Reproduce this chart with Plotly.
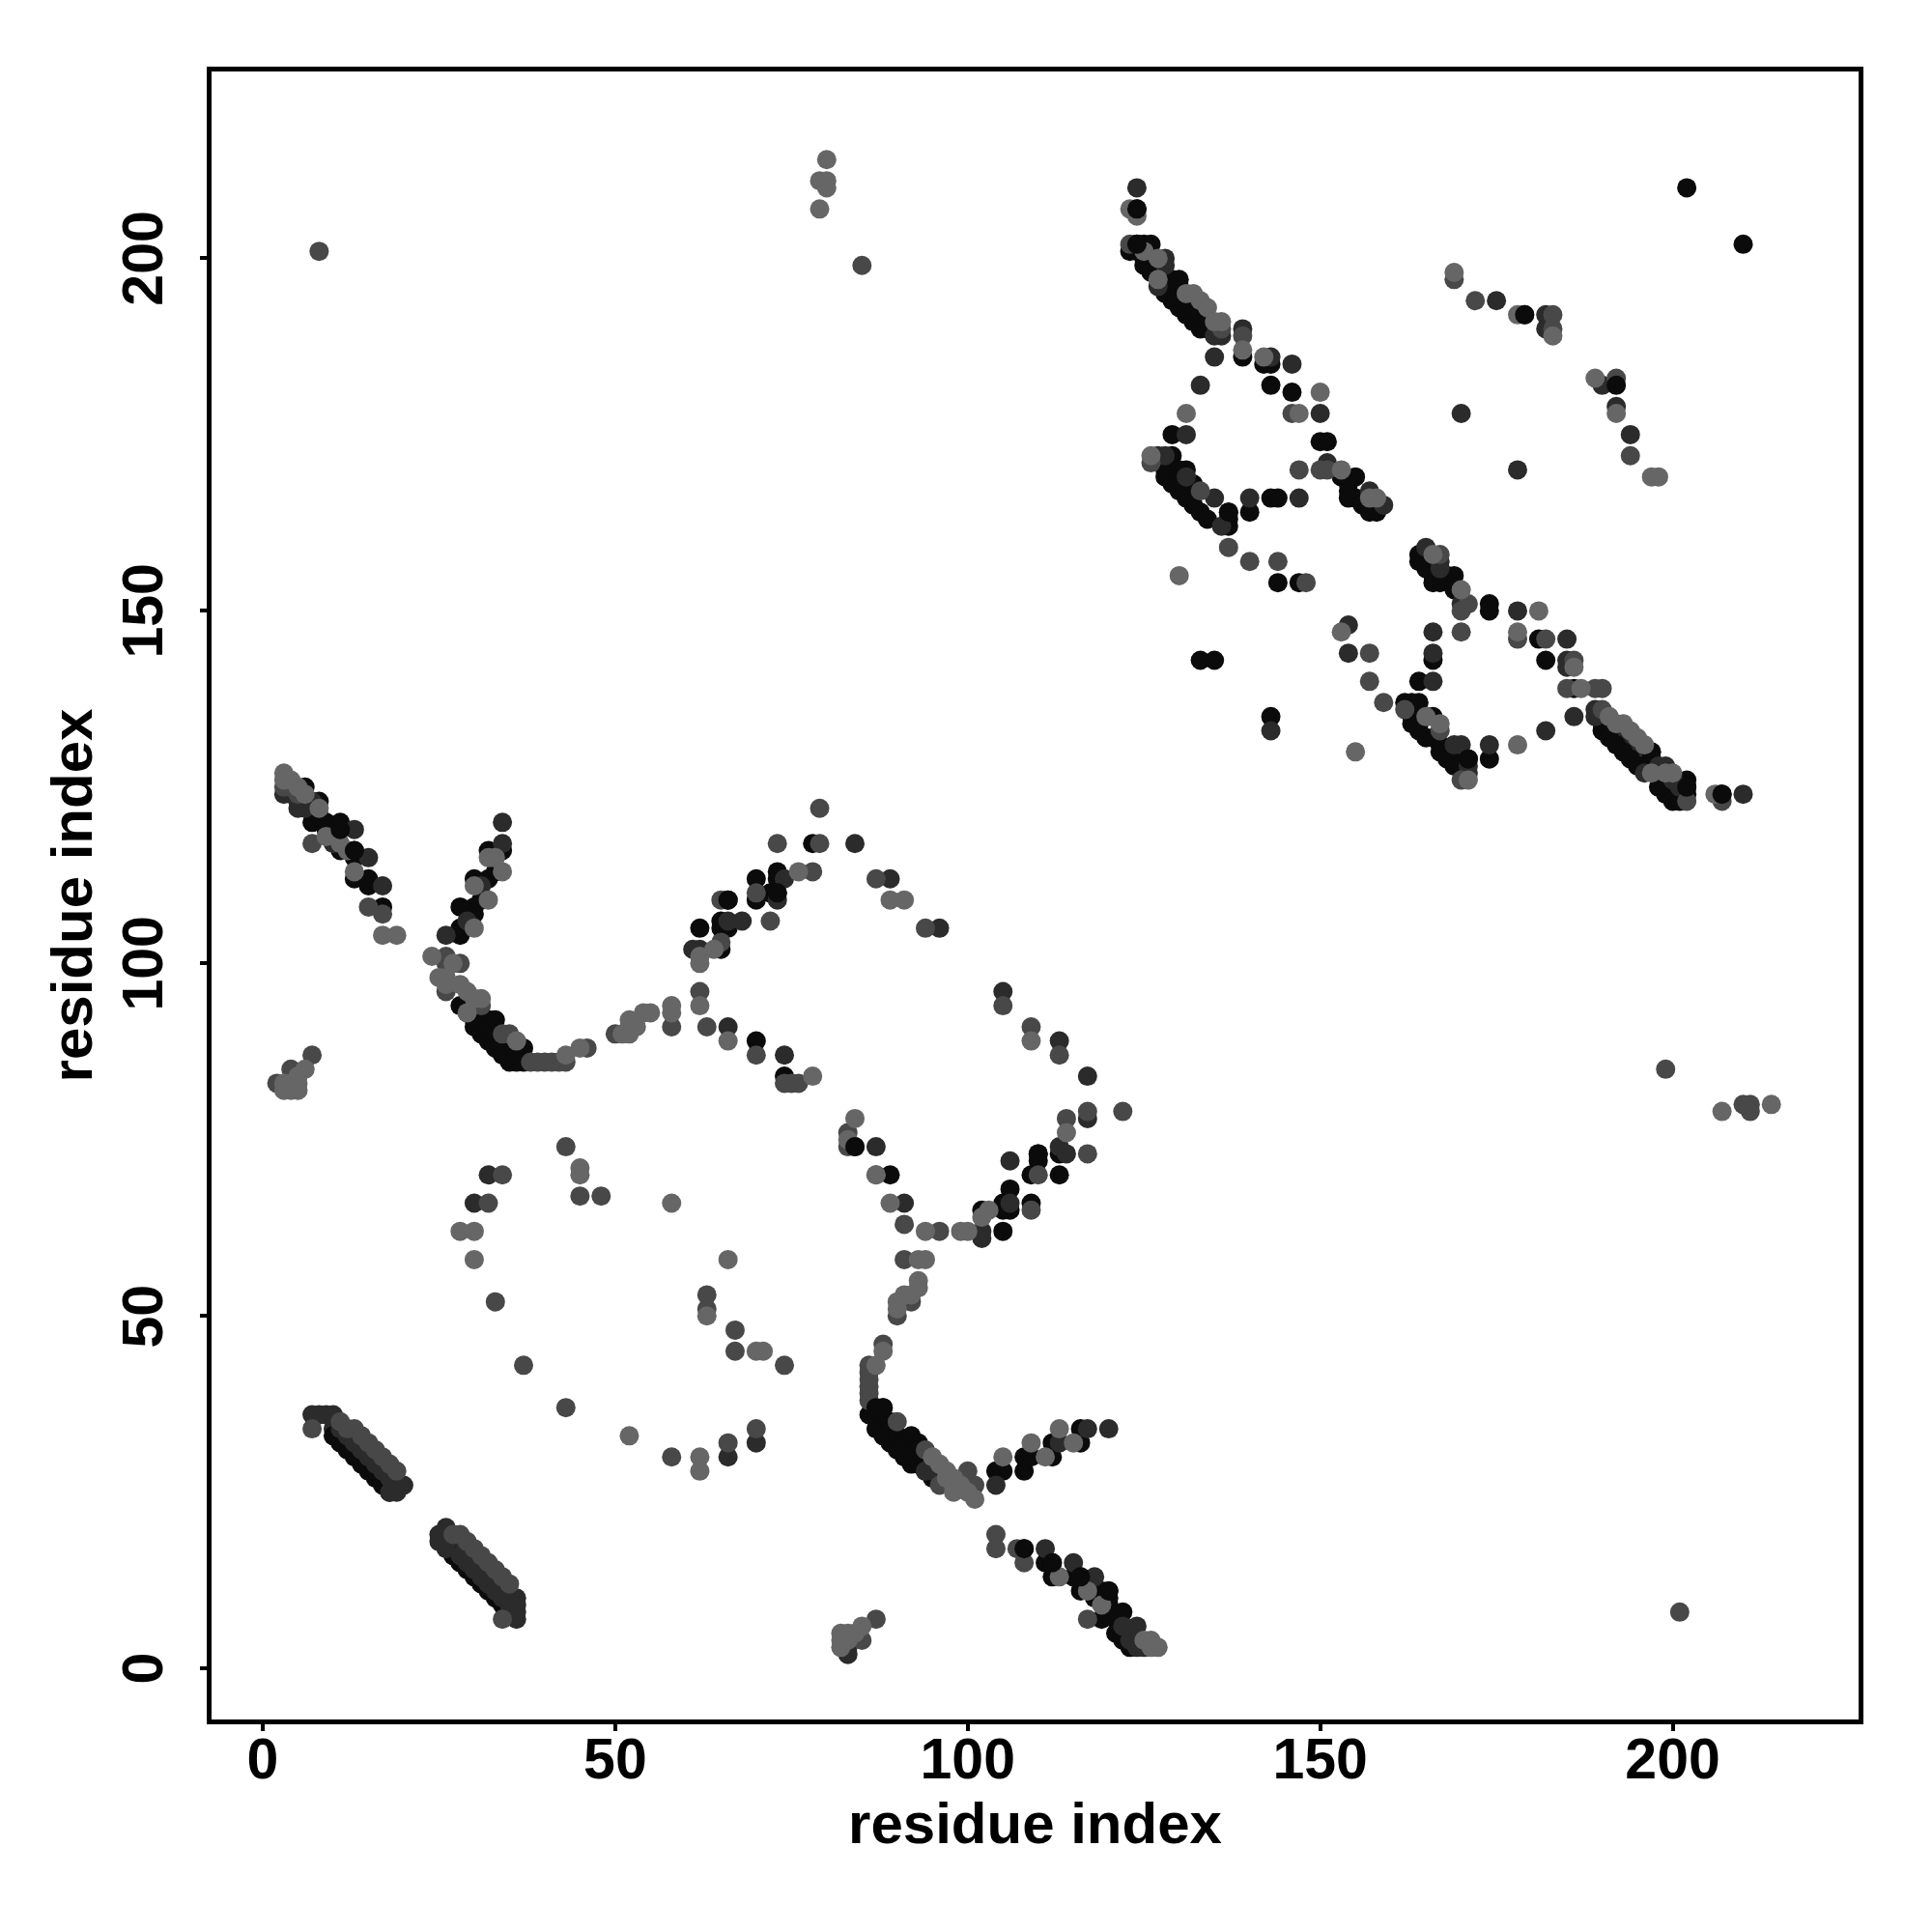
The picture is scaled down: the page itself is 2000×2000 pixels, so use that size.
import plotly.graph_objects as go

# Contacts (residue i, residue j), grouped by the grey level
contacts_dark_under = [
 (10,34),(11,33),(12,32),(13,31),(14,30),(15,29),(16,28),(17,27),(18,26),
 (27,17),(28,17),(29,16),(30,15),(31,14),(32,13),(33,12),(34,11),(27,18),
 (130,196),(131,193),(132,192),(133,191),(134,190),(135,190),
 (191,134),(192,133),(193,132),(194,131),(195,130),(196,129),
]
contacts_black = [
 (6,125),(8,123),(7,120),(8,121),(9,120),(11,120),(11,116),(13,116),(13,115),(13,112),(15,112),(15,111),(17,108),(10,118),(9,119),
 (34,116),(32,116),(32,112),(30,112),(33,113),(30,108),(28,108),(31,109),(30,107),(28,105),(28,104),
 (28,94),(29,93),(30,92),(30,91),(31,91),(31,90),(32,92),(32,91),(32,89),(33,92),(33,90),(33,88),(34,89),(34,87),(35,88),(35,86),(36,86),(36,87),(37,88),(37,86),
 (78,117),(73,113),(73,112),(70,112),(70,109),(72,110),(73,110),(66,109),(65,106),(65,105),(66,105),(62,105),(65,102),(70,89),(74,84),
 (105,62),(109,70),(113,73),(113,70),(110,73),(110,72),(106,68),(105,66),(109,66),(106,65),(105,65),(102,65),(84,74),(89,70),
 (86,36),(87,37),(88,37),(87,36),(87,34),(88,35),(88,33),(89,35),(89,32),(90,33),(90,31),(91,32),(91,30),(92,33),(92,31),(92,29),(93,32),(93,31),(93,29),(94,30),(94,28),(95,27),(96,27),
 (104,28),(105,28),(108,28),(108,30),(109,30),(112,30),(112,32),(116,32),(116,34),
 (108,17),(111,15),(112,15),(112,13),(115,13),(116,13),(116,11),(120,11),(119,11),(120,9),(122,8),(119,7),(120,8),(121,7),(121,5),(122,4),(123,3),(122,5),(123,5),(120,10),(118,10),
 (10,33),(11,32),(12,31),(13,30),(14,29),(15,28),(16,27),(17,26),(18,25),
 (27,16),(28,15),(29,14),(30,13),(31,12),(32,11),(33,10),(34,9),
 (124,207),(124,202),(125,202),(126,202),(123,201),(124,201),(125,199),(125,200),(126,198),(128,197),(129,197),(130,197),(128,195),(129,196),(129,194),(130,193),(130,195),(131,192),(131,194),(132,191),(132,193),(133,190),(133,192),(134,191),
 (139,186),(142,185),(143,185),(146,181),(143,182),(129,175),(150,174),(151,174),(129,172),(131,170),(128,169),(128,170),(129,168),(130,170),(130,167),(131,166),(132,165),(132,168),(133,164),(134,163),(137,164),(137,163),(137,162),(140,164),(143,166),(144,166),
 (155,169),(153,169),(154,168),(154,167),(154,166),(155,166),(156,165),(157,164),(158,164),(144,154),(147,154),
 (164,158),(164,157),(165,156),(166,154),(167,154),(166,155),(168,155),(169,155),(169,153),(174,151),(174,150),(166,143),(181,146),(182,143),(186,139),(164,140),
 (162,137),(163,137),(164,137),(163,135),(163,134),(164,134),(164,133),(165,135),(165,132),(166,135),(166,132),(167,131),(167,130),(168,130),(168,129),(169,128),(170,129),(170,128),(171,129),(174,129),
 (190,134),(190,133),(191,132),(192,131),(193,130),(194,129),(195,128),(196,128),(197,130),(197,129),(197,128),(198,125),(199,124),(200,123),(201,123),(202,126),(202,125),(202,124),(207,124),
 (202,210),(210,202),(133,143),(135,143),(143,135),
]
contacts_dark = [
 (3,124),(4,124),(5,123),(6,122),(5,122),(7,123),(13,119),(15,115),(17,111),(10,117),
 (34,120),(34,117),(26,104),(31,111),(29,106),
 (7,36),(8,36),(9,36),(10,36),(11,34),(12,33),(13,32),(14,31),(15,30),(16,29),(17,28),(18,27),(19,26),(20,26),(18,25),(19,25),
 (26,20),(25,19),(25,18),(26,18),(26,17),(28,16),(29,15),(30,14),(31,13),(32,12),(33,11),(34,10),(35,9),(36,10),(36,9),(36,8),(36,7),(35,8),(35,10),
 (32,70),(30,66),(66,91),(74,87),(62,102),(61,102),(66,106),(68,106),(73,109),(74,112),(84,117),(89,112),(96,105),
 (105,96),(113,89),(117,84),(117,78),(113,74),(114,73),(106,72),(106,66),(102,62),(102,61),(91,66),(87,74),
 (70,32),(66,30),(83,2),(83,3),
 (95,29),(96,28),(94,28),(95,28),(104,26),(113,32),(117,34),(120,34),(111,17),(115,15),(118,13),(124,6),(122,6),(123,4),(124,3),(125,3),
 (124,210),(128,200),(128,199),(127,196),(135,189),(136,189),(139,190),(135,186),(143,186),(146,185),(133,182),(150,178),(131,175),(127,172),(128,172),(151,171),(135,166),(136,162),(140,166),(147,166),(157,167),(159,165),(131,169),
 (165,159),(167,157),(167,156),(170,151),(178,150),(166,147),(185,146),(166,144),(185,143),(185,142),(166,140),
 (169,131),(170,131),(171,128),(171,127),(174,131),(182,133),(186,135),(154,148),(154,144),(143,133),
 (189,136),(189,135),(196,127),(199,128),(198,128),(200,126),(201,125),(210,124),
 (175,194),(170,178),(178,170),(182,190),(192,179),(190,182),(194,175),(179,192),(182,192),
]
contacts_mid = [
 (3,125),(4,125),(5,124),(7,117),(26,101),(26,100),(28,100),(26,96),(31,94),(34,90),(35,90),(17,107),(15,108),
 (38,86),(39,86),(40,86),(41,86),(42,86),(43,86),(46,88),(50,90),(58,91),
 (7,87),(4,85),(2,83),(43,74),(45,67),(48,67),(34,70),(32,66),(37,43),(43,37),(58,30),(33,52),
 (7,34),(11,35),(12,34),(13,34),(14,33),(15,32),(16,31),(17,30),(18,29),(19,28),
 (27,19),(28,19),(29,18),(30,17),(31,16),(32,15),(33,14),(34,13),(35,12),(34,7),
 (79,122),(73,117),(79,117),(78,113),(65,109),(70,110),(65,103),(72,106),(87,112),(94,105),(62,96),(63,91),(70,87),(74,83),(75,83),(76,83),
 (105,94),(109,91),(113,87),(122,79),(117,79),(114,78),(117,73),(109,65),(96,62),(91,63),(87,70),(83,74),(83,76),(110,70),
 (63,53),(63,51),(67,48),(67,45),(74,43),(70,34),(66,32),(91,58),(92,52),(90,50),(88,46),(86,43),(86,42),(86,41),(86,40),(86,39),(86,38),
 (90,35),(94,31),(96,26),(100,28),(101,26),(104,19),(104,17),(107,17),(108,15),(117,7),(87,7),(85,4),
 (123,202),(139,189),(136,190),(146,178),(147,170),(137,159),(140,157),(144,157),(148,154),(126,171),(150,170),(151,170),(133,167),
 (167,158),(171,151),(170,150),(170,147),(178,146),(182,146),(186,143),(185,139),(189,139),(190,139),(157,144),(157,140),(159,137),(162,136),(167,133),(170,126),
 (190,136),(202,123),(207,123),(8,201),(85,199),(199,85),(210,80),(211,80),(211,79),(201,8),
 (169,197),(172,194),(183,192),(183,190),(192,183),(194,172),
]
contacts_light = [
 (3,127),(3,126),(4,126),(5,125),(6,124),(8,122),(9,118),(11,117),(12,116),(13,113),(17,104),(19,104),
 (32,115),(34,113),(30,111),(32,109),(30,105),(33,115),
 (24,101),(27,100),(25,98),(26,98),(26,97),(28,97),(29,96),(30,95),(31,95),(29,93),(36,89),(43,87),(45,88),(51,90),(52,90),(52,91),(52,92),(53,91),(54,93),(55,93),(58,94),(58,93),
 (6,85),(5,84),(5,83),(3,83),(4,83),(3,82),(4,82),(5,82),(45,71),(45,70),(58,66),(28,62),(30,62),(30,58),(52,33),(62,30),(62,28),
 (80,214),(79,211),(80,211),(80,210),(79,207),
 (76,113),(64,102),(62,101),(62,100),(62,94),(89,109),(91,109),(66,89),(78,84),(84,78),(83,75),(114,76),(109,89),(103,65),(102,64),(100,62),(99,62),(94,62),(89,66),(87,70),
 (66,58),(63,50),(70,45),(71,45),(93,58),(94,58),(93,55),(93,54),(91,53),(90,52),(90,51),(92,53),(88,45),(87,43),
 (95,30),(96,29),(97,28),(97,27),(98,27),(98,26),(98,25),(99,26),(100,25),(101,24),(105,30),(109,32),(111,30),(113,34),(115,32),
 (113,13),(117,11),(119,9),(126,4),(127,3),(125,4),(126,3),(82,5),(83,5),(84,5),(82,4),(83,4),(82,3),(85,6),
 (123,207),(124,206),(125,201),(127,200),(127,197),(131,195),(132,195),(133,194),(134,193),(135,191),(136,191),(139,187),(142,186),(147,178),(131,178),(150,181),(126,172),(153,170),(157,166),(158,166),(130,155),
 (166,158),(170,153),(178,147),(181,150),(186,142),(187,139),(165,135),(171,126),(178,131),(155,130),(153,147),(167,134),
 (191,135),(192,134),(193,134),(194,133),(195,132),(196,131),(197,127),(199,127),(200,127),(206,124),
 (207,79),(214,80),(169,198),(178,192),(183,189),(189,183),(192,178),(197,169),(198,169),
]
# Black points that sit on top of a lighter neighbour
contacts_black_top = [
 (124,207),(124,202),(179,192),(192,182),(11,119),(13,116),(66,109),(73,110),(110,73),(84,74),(87,37),(88,37),(108,17),(112,15),(116,13),(120,11),
 (137,164),(171,129),(207,124),(202,125),
]

tick_values = [0, 50, 100, 150, 200]
axis_title = "residue index"
x_range = [-7.26, 226.37]
y_range = [-7.23, 226.5]
group_colors = ["#2b2b2b", "#0b0b0b", "#2b2b2b", "#484848", "#666666", "#0b0b0b"]
groups = [contacts_dark_under, contacts_black, contacts_dark, contacts_mid, contacts_light, contacts_black_top]

fig = go.Figure()
for pts, col in zip(groups, group_colors):
    fig.add_trace(go.Scatter(
        x=[p[0] for p in pts], y=[p[1] for p in pts], mode="markers",
        marker=dict(size=20, color=col, line=dict(width=0)), showlegend=False,
    ))

tick_font = dict(family="Liberation Sans", size=59, color="black", weight="bold")
title_font = dict(family="Liberation Sans", size=60, color="black", weight="bold")
common = dict(
    tickvals=tick_values,
    ticks="outside", ticklen=7, tickwidth=4, tickcolor="black",
    showline=True, linewidth=5, linecolor="black", mirror=True,
    showgrid=False, zeroline=False, tickfont=tick_font,
)
fig.update_xaxes(range=x_range, ticktext=[str(v) for v in tick_values], ticklabelstandoff=-22,
                 title=dict(text=axis_title, font=title_font, standoff=13), **common)
fig.update_yaxes(range=y_range, showticklabels=False,
                 title=dict(text=axis_title, font=title_font, standoff=94), **common)
# Rotated y tick labels, centred on their ticks
for v in tick_values:
    fig.add_annotation(xref="paper", yref="y", x=-0.0415, y=v, text=str(v), textangle=-90,
                       showarrow=False, font=tick_font, xanchor="center", yanchor="middle")
fig.update_layout(
    width=2000, height=2000, autosize=False,
    margin=dict(l=211, r=83.5, t=66, b=227.5, autoexpand=False),
    paper_bgcolor="white", plot_bgcolor="white",
)
fig.write_html("out.html")
